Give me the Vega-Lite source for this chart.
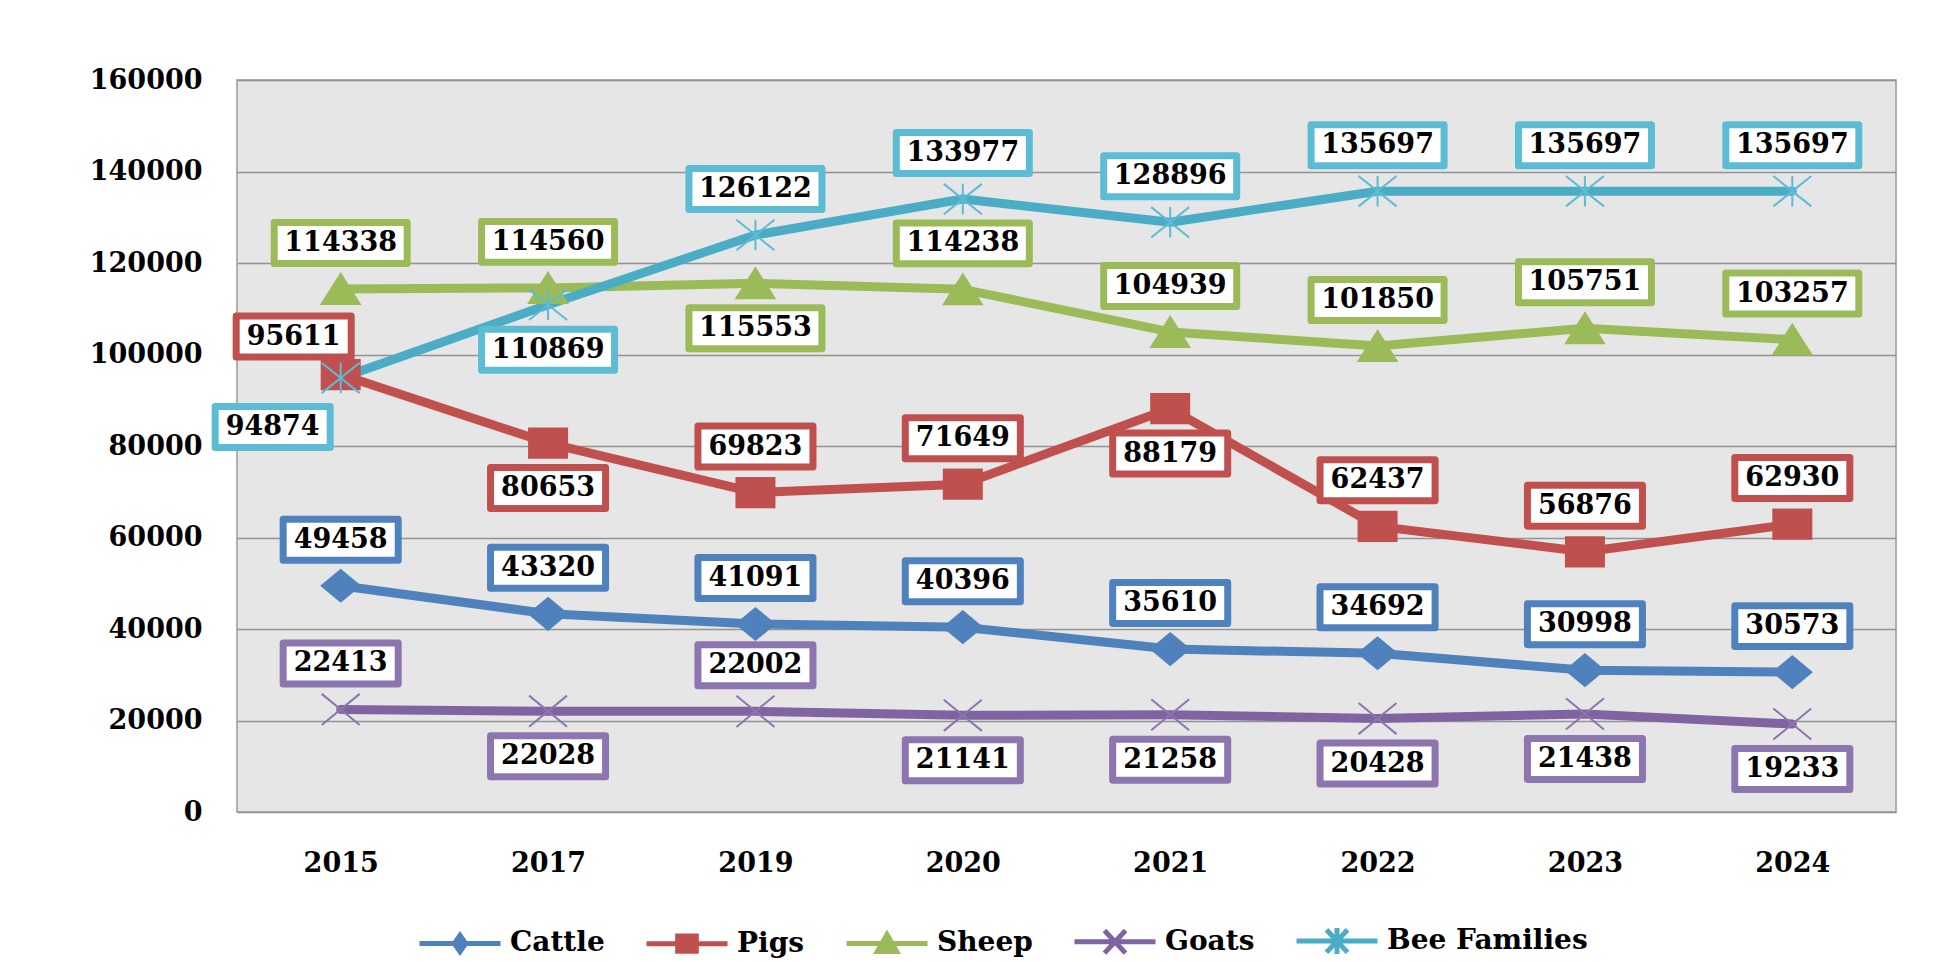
{
  "$schema": "https://vega.github.io/schema/vega-lite/v6.json",
  "width": 1659,
  "height": 732,
  "autosize": {"type": "none"},
  "padding": {"left": 237, "top": 80, "right": 44, "bottom": 150},
  "background": "white",
  "data": {
    "values": [
      {"year": 2015, "series": "Cattle", "value": 49458, "side": "above"},
      {"year": 2017, "series": "Cattle", "value": 43320, "side": "above"},
      {"year": 2019, "series": "Cattle", "value": 41091, "side": "above"},
      {"year": 2020, "series": "Cattle", "value": 40396, "side": "above"},
      {"year": 2021, "series": "Cattle", "value": 35610, "side": "above"},
      {"year": 2022, "series": "Cattle", "value": 34692, "side": "above"},
      {"year": 2023, "series": "Cattle", "value": 30998, "side": "above"},
      {"year": 2024, "series": "Cattle", "value": 30573, "side": "above"},
      {"year": 2015, "series": "Pigs", "value": 95611, "side": "aboveLeft"},
      {"year": 2017, "series": "Pigs", "value": 80653, "side": "below"},
      {"year": 2019, "series": "Pigs", "value": 69823, "side": "above"},
      {"year": 2020, "series": "Pigs", "value": 71649, "side": "above"},
      {"year": 2021, "series": "Pigs", "value": 88179, "side": "below"},
      {"year": 2022, "series": "Pigs", "value": 62437, "side": "above"},
      {"year": 2023, "series": "Pigs", "value": 56876, "side": "above"},
      {"year": 2024, "series": "Pigs", "value": 62930, "side": "above"},
      {"year": 2015, "series": "Sheep", "value": 114338, "side": "above"},
      {"year": 2017, "series": "Sheep", "value": 114560, "side": "above"},
      {"year": 2019, "series": "Sheep", "value": 115553, "side": "below"},
      {"year": 2020, "series": "Sheep", "value": 114238, "side": "above"},
      {"year": 2021, "series": "Sheep", "value": 104939, "side": "above"},
      {"year": 2022, "series": "Sheep", "value": 101850, "side": "above"},
      {"year": 2023, "series": "Sheep", "value": 105751, "side": "above"},
      {"year": 2024, "series": "Sheep", "value": 103257, "side": "above"},
      {"year": 2015, "series": "Goats", "value": 22413, "side": "above"},
      {"year": 2017, "series": "Goats", "value": 22028, "side": "below"},
      {"year": 2019, "series": "Goats", "value": 22002, "side": "above"},
      {"year": 2020, "series": "Goats", "value": 21141, "side": "below"},
      {"year": 2021, "series": "Goats", "value": 21258, "side": "below"},
      {"year": 2022, "series": "Goats", "value": 20428, "side": "below"},
      {"year": 2023, "series": "Goats", "value": 21438, "side": "below"},
      {"year": 2024, "series": "Goats", "value": 19233, "side": "below"},
      {"year": 2015, "series": "Bee Families", "value": 94874, "side": "belowLeft"},
      {"year": 2017, "series": "Bee Families", "value": 110869, "side": "below"},
      {"year": 2019, "series": "Bee Families", "value": 126122, "side": "above"},
      {"year": 2020, "series": "Bee Families", "value": 133977, "side": "above"},
      {"year": 2021, "series": "Bee Families", "value": 128896, "side": "above"},
      {"year": 2022, "series": "Bee Families", "value": 135697, "side": "above"},
      {"year": 2023, "series": "Bee Families", "value": 135697, "side": "above"},
      {"year": 2024, "series": "Bee Families", "value": 135697, "side": "above"}
    ]
  },
  "encoding": {
    "x": {
      "field": "year", "type": "ordinal",
      "scale": {"type": "point", "padding": 0.5},
      "axis": {"title": null, "labelAngle": 0, "ticks": false, "domain": false, "grid": false,
               "labelFont": "DejaVu Serif", "labelFontWeight": "bold", "labelFontSize": 27,
               "labelColor": "black", "labelPadding": 38}
    },
    "y": {
      "field": "value", "type": "quantitative",
      "scale": {"domain": [0, 160000], "nice": false},
      "axis": {"title": null, "values": [0, 20000, 40000, 60000, 80000, 100000, 120000, 140000, 160000],
               "format": "d", "ticks": false, "domain": false, "grid": true,
               "gridColor": "#939393", "gridWidth": 1.5,
               "labelFont": "DejaVu Serif", "labelFontWeight": "bold", "labelFontSize": 27,
               "labelColor": "black", "labelPadding": 35}
    }
  },
  "layer": [
    {
      "mark": {"type": "line", "strokeWidth": 9, "strokeCap": "round", "strokeJoin": "round"},
      "encoding": {
        "color": {
          "field": "series", "type": "nominal",
          "scale": {"domain": ["Cattle", "Pigs", "Sheep", "Goats", "Bee Families"],
                    "range": ["#4F81BD", "#C0504D", "#9BBB59", "#8064A2", "#4BACC6"]},
          "legend": {
            "orient": "none", "legendX": 180, "legendY": 818, "direction": "horizontal", "columns": 5,
            "title": null, "padding": 0,
            "labelFont": "DejaVu Serif", "labelFontWeight": "bold", "labelFontSize": 28, "labelColor": "black",
            "labelLimit": 400,
            "symbolSize": 6561, "labelOffset": 7, "columnPadding": 31,
            "encode": {
              "symbols": {
                "update": {
                  "shape": {"signal": "datum.value === 'Cattle' ? 'M-1,0H1M-0.14,0L0,-0.2L0.14,0L0,0.2Z' : datum.value === 'Pigs' ? 'M-1,0H1M-0.23,-0.19H0.23V0.19H-0.23Z' : datum.value === 'Sheep' ? 'M-1,0H1M-0.24,0.2L0,-0.22L0.24,0.2Z' : datum.value === 'Goats' ? 'M-1,0H1M-0.26,-0.28L0.26,0.28M-0.26,0.28L0.26,-0.28' : 'M-1,0H1M-0.26,-0.28L0.26,0.28M-0.26,0.28L0.26,-0.28M0,-0.32V0.32'"},
                  "fill": {"scale": "color", "field": "value"},
                  "stroke": {"scale": "color", "field": "value"},
                  "strokeWidth": {"value": 5},
                  "opacity": {"value": 1}
                }
              }
            }
          }
        }
      }
    },
    {
      "mark": {"type": "point", "filled": true, "strokeWidth": 2, "opacity": 1, "size": 1444},
      "encoding": {
        "color": {"field": "series", "type": "nominal"},
        "stroke": {"field": "series", "type": "nominal",
                   "scale": {"domain": ["Cattle", "Pigs", "Sheep", "Goats", "Bee Families"],
                             "range": ["#4F81BD", "#C0504D", "#9BBB59", "#8D75B0", "#5CBCD4"]},
                   "legend": null},
        "shape": {
          "condition": [
            {"test": "datum.series === 'Cattle'", "value": "M-1,0L0,-0.83L1,0L0,0.83Z"},
            {"test": "datum.series === 'Pigs'", "value": "M-1,-0.77H1V0.77H-1Z"},
            {"test": "datum.series === 'Sheep'", "value": "M-1,0.79L0,-0.79L1,0.79Z"},
            {"test": "datum.series === 'Goats'", "value": "M-1,-0.82L1,0.82M-1,0.82L1,-0.82"}
          ],
          "value": "M-1,-0.8L1,0.8M-1,0.8L1,-0.8M0,-0.8V0.8"
        }
      }
    },
    {
      "transform": [{"filter": "datum.side === 'above'"}],
      "layer": [
        {
          "mark": {"type": "point", "filled": true, "fill": "white", "strokeWidth": 7, "strokeJoin": "round", "opacity": 1, "size": 17689, "yOffset": -46},
          "encoding": {
            "stroke": {"field": "series", "type": "nominal", "legend": null},
            "shape": {"condition": {"test": "datum.value >= 100000", "value": "M-1,-0.308H1V0.308H-1Z"}, "value": "M-0.865,-0.308H0.865V0.308H-0.865Z"}
          }
        },
        {
          "mark": {"type": "text", "font": "DejaVu Serif", "fontWeight": "bold", "fontSize": 27, "color": "black", "baseline": "middle", "yOffset": -46},
          "encoding": {"text": {"field": "value", "type": "quantitative", "format": "d"}}
        }
      ]
    },
    {
      "transform": [{"filter": "datum.side === 'below'"}],
      "layer": [
        {
          "mark": {"type": "point", "filled": true, "fill": "white", "strokeWidth": 7, "strokeJoin": "round", "opacity": 1, "size": 17689, "yOffset": 45},
          "encoding": {
            "stroke": {"field": "series", "type": "nominal", "legend": null},
            "shape": {"condition": {"test": "datum.value >= 100000", "value": "M-1,-0.308H1V0.308H-1Z"}, "value": "M-0.865,-0.308H0.865V0.308H-0.865Z"}
          }
        },
        {
          "mark": {"type": "text", "font": "DejaVu Serif", "fontWeight": "bold", "fontSize": 27, "color": "black", "baseline": "middle", "yOffset": 45},
          "encoding": {"text": {"field": "value", "type": "quantitative", "format": "d"}}
        }
      ]
    },
    {
      "transform": [{"filter": "datum.side === 'aboveLeft'"}],
      "layer": [
        {
          "mark": {"type": "point", "filled": true, "fill": "white", "strokeWidth": 7, "strokeJoin": "round", "opacity": 1, "size": 17689, "xOffset": -47, "yOffset": -38},
          "encoding": {
            "stroke": {"field": "series", "type": "nominal", "legend": null},
            "shape": {"condition": {"test": "datum.value >= 100000", "value": "M-1,-0.308H1V0.308H-1Z"}, "value": "M-0.865,-0.308H0.865V0.308H-0.865Z"}
          }
        },
        {
          "mark": {"type": "text", "font": "DejaVu Serif", "fontWeight": "bold", "fontSize": 27, "color": "black", "baseline": "middle", "xOffset": -47, "yOffset": -38},
          "encoding": {"text": {"field": "value", "type": "quantitative", "format": "d"}}
        }
      ]
    },
    {
      "transform": [{"filter": "datum.side === 'belowLeft'"}],
      "layer": [
        {
          "mark": {"type": "point", "filled": true, "fill": "white", "strokeWidth": 7, "strokeJoin": "round", "opacity": 1, "size": 17689, "xOffset": -68, "yOffset": 49},
          "encoding": {
            "stroke": {"field": "series", "type": "nominal", "legend": null},
            "shape": {"condition": {"test": "datum.value >= 100000", "value": "M-1,-0.308H1V0.308H-1Z"}, "value": "M-0.865,-0.308H0.865V0.308H-0.865Z"}
          }
        },
        {
          "mark": {"type": "text", "font": "DejaVu Serif", "fontWeight": "bold", "fontSize": 27, "color": "black", "baseline": "middle", "xOffset": -68, "yOffset": 49},
          "encoding": {"text": {"field": "value", "type": "quantitative", "format": "d"}}
        }
      ]
    }
  ],
  "config": {
    "view": {"fill": "#e6e6e6", "stroke": "#9a9a9a", "strokeWidth": 1.5},
    "font": "DejaVu Serif"
  }
}
